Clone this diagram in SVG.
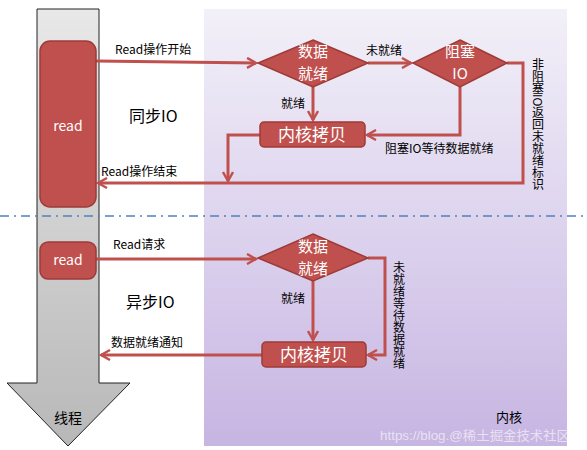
<svg xmlns="http://www.w3.org/2000/svg" width="587" height="450" viewBox="0 0 587 450">
<defs>
<linearGradient id="kg" x1="0" y1="0" x2="0" y2="1">
<stop offset="0" stop-color="#f2f0f8"/>
<stop offset="0.5" stop-color="#ddd3ee"/>
<stop offset="1" stop-color="#c7b5e2"/>
</linearGradient>
<linearGradient id="tg" x1="0" y1="0" x2="0" y2="1">
<stop offset="0" stop-color="#e8e8e8"/>
<stop offset="1" stop-color="#b8b8b8"/>
</linearGradient>
<marker id="ah" viewBox="0 0 12 12" refX="10" refY="6" markerWidth="12" markerHeight="12" markerUnits="userSpaceOnUse" orient="auto">
<path d="M1,1 L10,6 L1,11" fill="none" stroke="#c0504d" stroke-width="2.4"/>
</marker>
<style>
.ln{fill:none;stroke:#c0504d;stroke-width:3;}
.nd{fill:#c0504d;stroke:#9e3a37;stroke-width:1.5;}
.wt{fill:#fff;font-family:"Noto Sans CJK SC","Noto Sans",sans-serif;text-anchor:middle;}
.lb{fill:#000;font-family:"Noto Sans CJK SC","Noto Sans",sans-serif;}
.vt{writing-mode:vertical-rl;fill:#000;font-family:"Noto Sans CJK SC","Noto Sans",sans-serif;font-size:12px;}
</style>
</defs>
<rect width="587" height="450" fill="#fff"/>
<rect id="kernel-area" x="204" y="9" width="363" height="437" fill="url(#kg)"/>
<g id="thread">
<path d="M37,9 H99 V383 H130 L68,446 L7,383 H37 Z" fill="url(#tg)" stroke="#222" stroke-width="1"/>
<text x="68" y="423" class="lb" font-size="14" text-anchor="middle">线程</text>
</g>
<line x1="0" y1="216" x2="587" y2="216" stroke="#4f81bd" stroke-width="1.5" stroke-dasharray="9,5,2,5"/>
<g id="connectors">
<path class="ln" d="M96,61 L256,63" marker-end="url(#ah)"/>
<path class="ln" d="M368,63 H411" marker-end="url(#ah)"/>
<path class="ln" d="M313,87 V120" marker-end="url(#ah)"/>
<path class="ln" d="M460,87 V135 H367" marker-end="url(#ah)"/>
<path class="ln" d="M507,63 H523 V183 H98" marker-end="url(#ah)"/>
<path class="ln" d="M260,135 H228 V181" marker-end="url(#ah)"/>
<path class="ln" d="M96,259 H256" marker-end="url(#ah)"/>
<path class="ln" d="M313,281 V340" marker-end="url(#ah)"/>
<path class="ln" d="M368,258 H385 V355 H368" marker-end="url(#ah)"/>
<path class="ln" d="M262,355 H101" marker-end="url(#ah)"/>
</g>
<g id="read1">
<rect class="nd" x="40" y="41" width="56" height="166" rx="10"/>
<text class="wt" x="68" y="131" font-size="14">read</text>
</g>
<g id="read2">
<rect class="nd" x="40" y="242" width="56" height="37" rx="8"/>
<text class="wt" x="68" y="265" font-size="14">read</text>
</g>
<g id="ready1">
<polygon class="nd" points="313,40 368,63 313,87 258,63"/>
<text class="wt" font-size="15"><tspan x="313" y="57">数据</tspan><tspan x="313" y="79">就绪</tspan></text>
</g>
<g id="block-io">
<polygon class="nd" points="460,40 507,63 460,87 413,63"/>
<text class="wt" font-size="15"><tspan x="460" y="57">阻塞</tspan><tspan x="460" y="79">IO</tspan></text>
</g>
<g id="copy1">
<rect class="nd" x="260" y="122" width="105" height="25" rx="4"/>
<text class="wt" x="312" y="141" font-size="17">内核拷贝</text>
</g>
<g id="ready2">
<polygon class="nd" points="313,234 368,258 313,281 258,258"/>
<text class="wt" font-size="15"><tspan x="313" y="252">数据</tspan><tspan x="313" y="274">就绪</tspan></text>
</g>
<g id="copy2">
<rect class="nd" x="262" y="342" width="104" height="25" rx="4"/>
<text class="wt" x="314" y="361" font-size="17">内核拷贝</text>
</g>
<g id="labels">
<text class="lb" x="115" y="54" font-size="12">Read操作开始</text>
<text class="lb" x="366" y="55" font-size="12">未就绪</text>
<text class="lb" x="281" y="108" font-size="12">就绪</text>
<text class="lb" x="385" y="153" font-size="12">阻塞IO等待数据就绪</text>
<text class="lb" x="101" y="176" font-size="12">Read操作结束</text>
<text class="lb" x="129" y="122" font-size="16">同步IO</text>
<text class="vt" x="538" y="58">非阻塞IO返回未就绪标识</text>
<text class="lb" x="113" y="249" font-size="12">Read请求</text>
<text class="lb" x="281" y="303" font-size="12">就绪</text>
<text class="lb" x="111" y="347" font-size="12">数据就绪通知</text>
<text class="lb" x="126" y="308" font-size="16">异步IO</text>
<text class="vt" x="399" y="261">未就绪等待数据就绪</text>
<text class="lb" x="496" y="422" font-size="13">内核</text>
<text x="380" y="440" font-family="'Liberation Sans','Noto Sans CJK SC',sans-serif" font-size="13" textLength="190" lengthAdjust="spacingAndGlyphs" fill="#ffffff" fill-opacity="0.6">https://blog.@稀土掘金技术社区</text>
</g>
</svg>
